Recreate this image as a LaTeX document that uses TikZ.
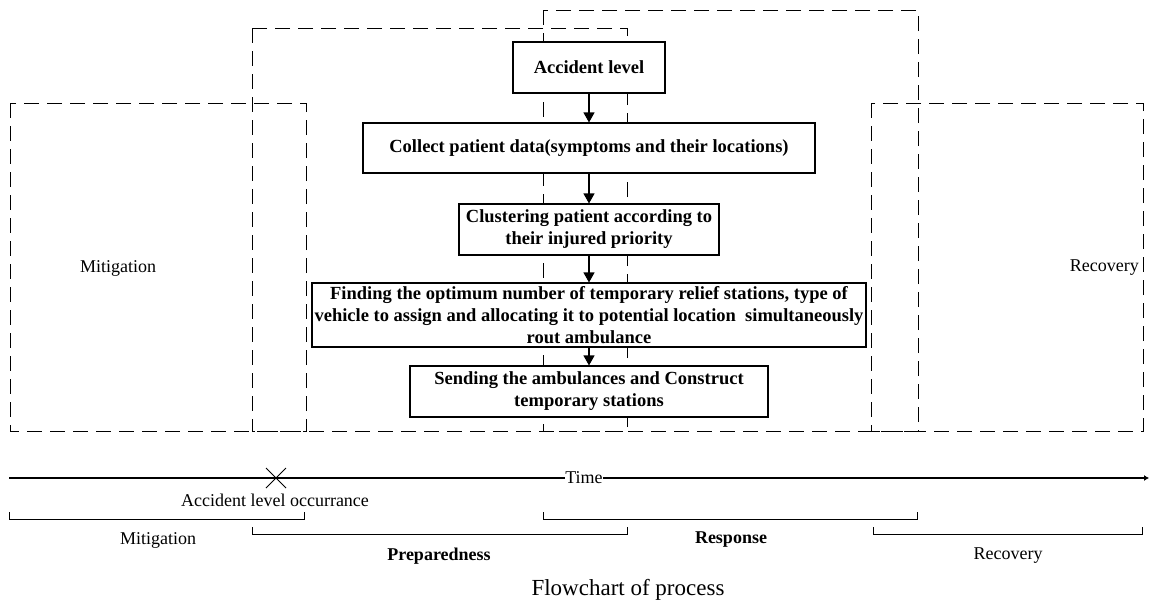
\documentclass[tikz,border=0pt]{standalone}
\usepackage{fontspec}
\setmainfont{Liberation Serif}
\usetikzlibrary{arrows.meta,calc}
\tikzset{
  phase/.style={draw=black, line width=1pt, dash pattern=on 15pt off 8pt},
  stepbox/.style={draw=black, fill=white, line width=1.1pt, align=center, inner sep=2pt,
    font=\fontsize{18.5}{22}\selectfont\bfseries},
  flow/.style={-{Triangle[length=10pt,width=11pt]}, line width=1.1pt},
  lbl/.style={font=\fontsize{18}{22}\selectfont, inner sep=1pt},
  blbl/.style={font=\fontsize{18}{22}\selectfont\bfseries, inner sep=1pt},
  brk/.style={line width=1pt},
}
\begin{document}
\begin{tikzpicture}[x=1pt,y=-1pt]
\useasboundingbox (0,0) rectangle (1150,605);
% phase boxes
\draw[phase] (10,103) rectangle (306,431);
\draw[phase] (252,28) rectangle (627,431);
\draw[phase] (543,10) rectangle (918,431);
\draw[phase] (871,103) rectangle (1143,431);
\node[lbl] (mitbox) at (118,268) {Mitigation};
\node[lbl, anchor=east] (recbox) at (1140,268) {Recovery};
% flow
\node[stepbox, minimum width=152pt, minimum height=51pt] (acc) at (589,67.5) {Accident level};
\node[stepbox, minimum width=452pt, minimum height=50pt] (col) at (589,148) {Collect patient data(symptoms and their locations)};
\node[stepbox, minimum width=260pt, minimum height=51pt] (clu) at (589,229.5) {Clustering patient according to\\their injured priority};
\node[stepbox, minimum width=554pt, minimum height=64pt, inner sep=0pt] (fin) at (589,315) {Finding the optimum number of temporary relief stations, type of\\vehicle to assign and allocating it to potential location~ simultaneously\\rout ambulance};
\node[stepbox, minimum width=358pt, minimum height=51pt] (sen) at (589,391.5) {Sending the ambulances and Construct\\temporary stations};
\draw[flow] (acc) -- (col);
\draw[flow] (col) -- (clu);
\draw[flow] (clu) -- (fin);
\draw[flow] (fin) -- (sen);
% timeline
\coordinate (tstart) at (9,478);
\coordinate (tend) at (1149,478);
\draw[line width=1.1pt, -{Latex[length=5pt,width=6pt]}] (tstart) -- (tend);
\node[lbl, fill=white, inner sep=0pt] (time) at (584,478) {Time};
\coordinate (occ) at (276,478);
\draw[line width=1pt] ($(occ)+(-10,-10)$) -- ($(occ)+(10,10)$);
\draw[line width=1pt] ($(occ)+(-10,10)$) -- ($(occ)+(10,-10)$);
\node[lbl] (occlbl) at (275,500) {Accident level occurrance};
% brackets
\draw[brk] (9,512) -- (9,519) -- (304,519) -- (304,512);
\draw[brk] (252,527) -- (252,534) -- (627,534) -- (627,527);
\draw[brk] (543,512) -- (543,519) -- (917,519) -- (917,512);
\draw[brk] (873,527) -- (873,534) -- (1142,534) -- (1142,527);
\node[lbl] (mit) at (158,540) {Mitigation};
\node[blbl] (pre) at (439,556) {Preparedness};
\node[blbl] (res) at (731,540) {Response};
\node[lbl] (rec) at (1008,556) {Recovery};
\node[font=\fontsize{23}{27}\selectfont] (cap) at (628,590) {Flowchart of process};
\end{tikzpicture}
\end{document}
